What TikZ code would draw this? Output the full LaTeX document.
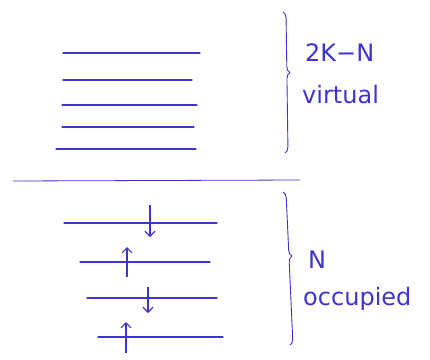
\documentclass[tikz,border=0pt]{standalone}
\usepackage{fontspec}
\setmainfont{DejaVu Sans}
\usetikzlibrary{arrows.meta,decorations.pathreplacing}
\definecolor{ink}{RGB}{62,52,205}

\begin{document}
\begin{tikzpicture}[x=1pt,y=-1pt,
        level/.style={draw=ink, line width=1.1pt, line cap=round},
        spin/.style={draw=ink, line width=1.1pt, -{Straight Barb[length=5pt,width=10pt]}},
        curly/.style={draw=ink, line width=0.9pt, decorate},
        lbl/.style={text=ink, font=\fontsize{24}{26}\selectfont, anchor=base west, inner sep=0pt}
    ]
        \useasboundingbox (0,0) rectangle (430,359);

        % virtual levels
        \foreach \i/\xa/\xb/\y in {1/63/200/53, 2/63/192/80, 3/62/197/105, 4/62/194/127, 5/56/196/149} {
            \coordinate (v\i w) at (\xa,\y);
            \coordinate (v\i e) at (\xb,\y);
            \draw[level] (v\i w) -- (v\i e);
        }

        \coordinate (divw) at (13,181);
        \coordinate (dive) at (300,180);
        \draw[level, line width=0.8pt] (divw) -- (dive);

        % occupied levels
        \foreach \i/\xa/\xb/\y in {1/64/217/223, 2/80/210/262, 3/87/217/298, 4/98/223/337} {
            \coordinate (o\i w) at (\xa,\y);
            \coordinate (o\i e) at (\xb,\y);
            \draw[level] (o\i w) -- (o\i e);
        }

        % spins
        \foreach \i/\x/\ya/\yb in {1/150/205/237, 2/127/277/247, 3/148/287/313, 4/126/353/322} {
            \coordinate (s\i a) at (\x,\ya);
            \coordinate (s\i b) at (\x,\yb);
            \draw[spin] (s\i a) -- (s\i b);
        }

        \coordinate (bv1) at (283,12);
        \coordinate (bv2) at (285,153);
        \coordinate (bo1) at (283,192);
        \coordinate (bo2) at (290,345);
        \draw[curly, decoration={brace, amplitude=6pt, aspect=0.43}] (bv1) -- (bv2);
        \draw[curly, decoration={brace, amplitude=6pt, aspect=0.42}] (bo1) -- (bo2);

        \node[lbl] (nvirt) at (305,61) {2K−N};
        \node[lbl] (virt) at (302,103) {virtual};
        \node[lbl] (nocc) at (308,268) {N};
        \node[lbl] (occ) at (303,305) {occupied};
    \end{tikzpicture}
\end{document}
